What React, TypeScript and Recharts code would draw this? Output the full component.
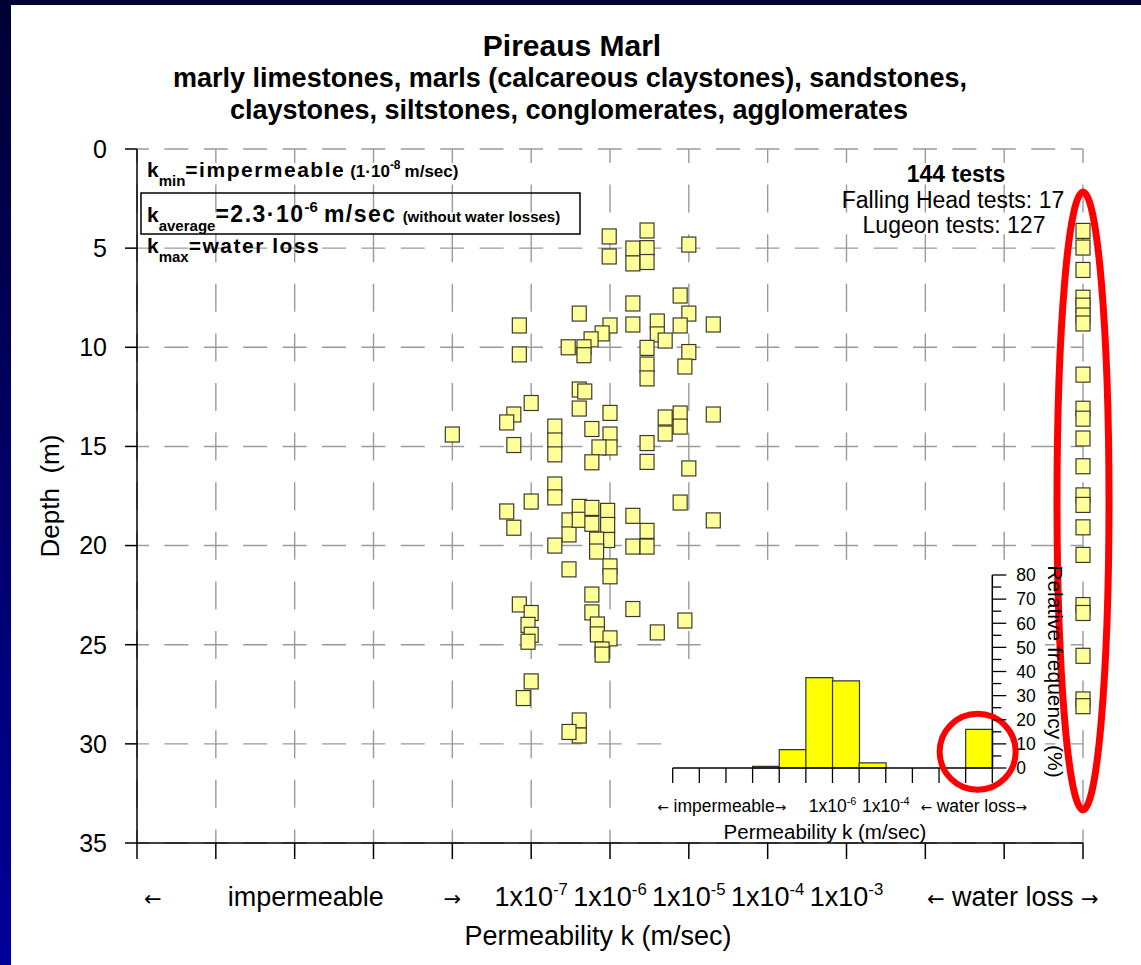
import React from 'react';
import { ScatterChart, Scatter, XAxis, YAxis, CartesianGrid, ReferenceDot, BarChart, Bar } from 'recharts';

const FONT = '"Liberation Sans", Arial, Helvetica, sans-serif';
const ARROW_FONT = '"DejaVu Sans", "Liberation Sans", sans-serif';

// ---- main scatter: permeability position (decade index, 0..12) vs depth (m)
const testPermIndex = [
  5.99, 5.99, 6.47, 6.29, 6.29, 6.47, 6.47, 7.0, 6.29, 6.89, 5.61, 4.85, 6.29, 7.31, 7.0, 6.89,
  4.85, 5.47, 6.0, 5.9, 5.76, 5.67, 5.67, 6.6, 6.6, 6.7, 6.47, 6.47, 6.47, 7.0, 6.95,
  5.61, 5.68, 5.61, 5.0, 4.78, 4.69, 4.0, 4.78, 5.3, 5.3, 5.3, 6.0, 5.77, 6.0, 6.0, 5.86, 5.77,
  6.47, 6.47, 6.7, 6.7, 6.89, 6.89, 7.31, 7.0, 5.3, 5.3, 5.0, 6.89, 7.31, 4.69, 4.78,
  5.48, 5.48, 5.61, 5.61, 5.77, 5.77, 5.97, 5.97, 5.97, 5.83, 5.83, 5.3, 5.48, 6.0, 6.0,
  6.29, 6.47, 6.29, 6.47, 4.85, 5.0, 4.96, 5.0, 4.96, 5.0, 4.9, 5.77, 5.77, 5.84, 5.84, 6.0,
  5.9, 5.9, 6.29, 6.6, 6.95, 5.61, 5.61, 5.48,
];
const testDepth = [
  4.41, 5.42, 4.11, 5.02, 5.77, 5.0, 5.7, 4.82, 7.79, 7.39, 8.3, 8.9, 8.85, 8.85, 8.3, 8.9,
  10.36, 10.0, 8.9, 9.3, 9.6, 10.0, 10.4, 8.7, 9.35, 9.66, 10.03, 10.87, 11.57, 10.24, 10.97,
  12.13, 12.23, 13.09, 12.81, 13.39, 13.79, 14.4, 14.93, 14.0, 14.7, 15.4, 13.31, 14.12, 14.4, 15.05, 15.05, 15.8,
  14.83, 15.78, 13.54, 14.35, 13.34, 14.0, 13.39, 16.11, 16.92, 17.57, 17.78, 17.83, 18.73, 18.28, 19.1,
  18.73, 19.44, 18.05, 18.7, 18.1, 18.9, 18.25, 18.96, 19.72, 19.7, 20.3, 20.0, 21.2, 21.05, 21.55,
  18.5, 19.26, 20.05, 20.05, 22.97, 23.4, 24.0, 24.5, 24.85, 26.85, 27.69, 22.47, 23.37, 23.98, 24.48, 24.68,
  25.24, 25.5, 23.2, 24.38, 23.78, 28.82, 29.58, 29.4,
];
const WATER_LOSS_INDEX = 12;
const waterLossDepth = [
  4.13, 4.97, 6.1, 7.5, 7.9, 8.4, 8.8, 11.38, 13.1, 13.6, 14.6, 16.0, 17.47, 17.95,
  19.08, 20.47, 23.0, 23.4, 25.56, 27.76, 28.1,
];

const depthTicks = [0, 5, 10, 15, 20, 25, 30, 35];
const gridTicks = [0, 1, 2, 3, 4, 5, 6, 7, 8, 9, 10, 11, 12];
const xLabelPos = [0.2, 2.14, 4, 5, 6, 7, 8, 9, 11.11];
const xLabelText = ['←', 'impermeable', '→', '1x10^-7', '1x10^-6', '1x10^-5', '1x10^-4', '1x10^-3', '← water loss →'];

// ---- inset histogram (bins 1 decade wide, on the same 0..12 scale)
const histBinCenter = [0.5, 1.5, 2.5, 3.5, 4.5, 5.5, 6.5, 7.5, 8.5, 9.5, 10.5, 11.5];
const histFreq = [0, 0, 0, 0.7, 7.6, 37.5, 36.1, 2.1, 0, 0, 0, 16.0];
const insetLabelPos = [1.84, 6, 8, 11.3];
const insetLabelText = ['← impermeable→', '1x10^-6', '1x10^-4', '← water loss→'];
const insetFreqTicks = [0, 5, 10, 15, 20, 25, 30, 35, 40, 45, 50, 55, 60, 65, 70, 75, 80];

const mainPoints = testPermIndex.map((x, i) => ({ x, y: testDepth[i] }));
const waterLossPoints = waterLossDepth.map((y) => ({ x: WATER_LOSS_INDEX, y }));
const histData = histBinCenter.map((mid, i) => ({ mid, freq: histFreq[i] }));

const withArrows = (s: string, fs: number, keyBase: string) =>
  s.split(/([←→])/).filter((t) => t !== '').map((t, i) =>
    t === '←' || t === '→' ? (
      <tspan key={`${keyBase}${i}`} fontFamily={ARROW_FONT} fontSize={fs * 0.78}>{t}</tspan>
    ) : (
      <tspan key={`${keyBase}${i}`}>{t}</tspan>
    )
  );

const supText = (s: string, fs: number) => {
  const parts = s.split('^');
  if (parts.length < 2) return withArrows(s, fs, 'a');
  return (
    <>
      {parts[0]}
      <tspan dy={-fs * 0.42} fontSize={fs * 0.62}>{parts[1]}</tspan>
    </>
  );
};

const EmptyTick = () => <g />;

const labelShape = (text: string, fs: number, dy: number) => (props: any) => (
  <text x={props.cx} y={props.cy + dy} textAnchor="middle" fontSize={fs} fill="#000">
    {supText(text, fs)}
  </text>
);

const InsetYTick = (props: any) => {
  const { x, y, payload } = props;
  const v = payload.value;
  const major = v % 10 === 0;
  return (
    <g>
      <line x1={x} x2={x + (major ? 14 : 9)} y1={y} y2={y} stroke="#000" strokeWidth={1.3} />
      {major && (
        <text x={x + 24} y={y} dy="0.36em" fontSize={17.5} fill="#000">
          {v}
        </text>
      )}
    </g>
  );
};

const Square = (props: any) => {
  const { cx, cy } = props;
  if (cx == null || cy == null) return <g />;
  return <rect x={cx - 7} y={cy - 7.5} width={14} height={15} fill="#FFFF99" stroke="#3b3b2b" strokeWidth={1.2} />;
};

const BigEllipse = (props: any) => (
  <ellipse cx={props.cx} cy={props.cy} rx={26} ry={309} fill="none" stroke="#FF0000" strokeWidth={7} />
);
const SmallCircle = (props: any) => (
  <ellipse cx={props.cx} cy={props.cy} rx={38} ry={38} fill="none" stroke="#FF0000" strokeWidth={6} />
);

export default function App() {
  return (
    <div
      style={{
        position: 'absolute', left: 0, top: 0, width: 1141, height: 965,
        background: '#fff', overflow: 'hidden', fontFamily: FONT,
      }}
    >
      <div style={{ position: 'absolute', left: 0, top: 0, width: 1141, height: 5, background: '#000035', zIndex: 0 }} />
      <div
        style={{
          position: 'absolute', left: 0, top: 0, width: 11, height: 965, zIndex: 0,
          background: 'linear-gradient(#000035, #00009a)',
        }}
      />

      <div style={{ position: 'absolute', left: 0, top: 0, zIndex: 1 }}>
        <ScatterChart width={1141} height={965} margin={{ top: 149, right: 58, bottom: 92, left: 77 }}>
          <CartesianGrid
            horizontal
            vertical={false}
            stroke="#9a9a9a"
            strokeWidth={1.4}
            strokeDasharray="24 15.4"
            strokeDashoffset={12}
          />
          <CartesianGrid
            horizontal={false}
            vertical
            stroke="#9a9a9a"
            strokeWidth={1.4}
            strokeDasharray="28 21.6"
            strokeDashoffset={14}
          />
          <XAxis
            type="number"
            dataKey="x"
            domain={[0, 12]}
            ticks={gridTicks}
            interval={0}
            height={30}
            tickSize={16}
            axisLine={{ stroke: '#000', strokeWidth: 1.5 }}
            tickLine={{ stroke: '#000', strokeWidth: 1.5 }}
            tick={EmptyTick}
            label={{ value: 'Permeability k (m/sec)', position: 'bottom', offset: 53, dx: -12, fontSize: 27, fill: '#000' }}
          />
          <YAxis
            type="number"
            dataKey="y"
            domain={[0, 35]}
            reversed
            ticks={depthTicks}
            interval={0}
            width={60}
            tickSize={12}
            tickMargin={18}
            axisLine={{ stroke: '#000', strokeWidth: 1.5 }}
            tickLine={{ stroke: '#000', strokeWidth: 1.5 }}
            tick={{ fontSize: 25, fill: '#000' }}
            label={{
              value: 'Depth\u00a0 (m)', angle: -90, position: 'left', offset: 27,
              textAnchor: 'middle', fontSize: 26, fill: '#000',
            }}
          />
          <Scatter data={mainPoints} shape={Square} isAnimationActive={false} />
          <Scatter data={waterLossPoints} shape={Square} isAnimationActive={false} />
          {xLabelPos.map((p, i) => (
            <ReferenceDot key={`xl${i}`} x={p} y={35} r={1} ifOverflow="visible" shape={labelShape(xLabelText[i], 27, 63)} />
          ))}
          <ReferenceDot x={WATER_LOSS_INDEX} y={17.75} r={1} shape={BigEllipse} ifOverflow="visible" />
        </ScatterChart>
      </div>

      {/* inset background */}
      <div style={{ position: 'absolute', left: 708, top: 560, width: 337, height: 282, background: '#fff', zIndex: 2 }} />
      <div style={{ position: 'absolute', left: 663, top: 662, width: 46, height: 180, background: '#fff', zIndex: 2 }} />

      <div style={{ position: 'absolute', left: 640, top: 550, zIndex: 3 }}>
        <BarChart
          width={460}
          height={300}
          data={histData}
          margin={{ top: 25, right: 47.7, bottom: 52, left: 32.7 }}
          barCategoryGap={0}
          barGap={0}
        >
          <XAxis
            type="number"
            dataKey="mid"
            domain={[0, 12]}
            ticks={gridTicks}
            interval={0}
            height={30}
            tickSize={15}
            axisLine={{ stroke: '#000', strokeWidth: 1.5 }}
            tickLine={{ stroke: '#000', strokeWidth: 1.3 }}
            tick={EmptyTick}
            label={{ value: 'Permeability k (m/sec)', position: 'bottom', offset: 26, dx: -7.5, fontSize: 20.5, fill: '#000' }}
          />
          <YAxis
            orientation="right"
            type="number"
            domain={[0, 80]}
            ticks={insetFreqTicks}
            interval={0}
            width={60}
            tickSize={0}
            tickMargin={0}
            axisLine={{ stroke: '#000', strokeWidth: 1.5 }}
            tickLine={false}
            tick={InsetYTick}
            label={{
              value: 'Relative frequency (%)', angle: 90, position: 'right', offset: 3,
              textAnchor: 'middle', fontSize: 21, fill: '#000',
            }}
          />
          <Bar dataKey="freq" fill="#FFFF00" stroke="#333" strokeWidth={1.2} isAnimationActive={false} />
          {insetLabelPos.map((p, i) => (
            <ReferenceDot key={`il${i}`} x={p} y={0} r={1} ifOverflow="visible" shape={labelShape(insetLabelText[i], 17.5, 44)} />
          ))}
          <ReferenceDot x={11.45} y={6.75} r={1} shape={SmallCircle} ifOverflow="visible" />
        </BarChart>
      </div>

      {/* titles and annotations */}
      <svg width={1141} height={965} style={{ position: 'absolute', left: 0, top: 0, pointerEvents: 'none', zIndex: 4 }} fontFamily={FONT}>
        <text x={572} y={56} textAnchor="middle" fontSize={30} fontWeight="bold" fill="#000">Pireaus Marl</text>
        <text x={570} y={87} textAnchor="middle" fontSize={27} fontWeight="bold" fill="#000">
          marly limestones, marls (calcareous claystones), sandstones,
        </text>
        <text x={569} y={119} textAnchor="middle" fontSize={27} fontWeight="bold" fill="#000">
          claystones, siltstones, conglomerates, agglomerates
        </text>

        <text x={147} y={177} fontWeight="bold" fill="#000">
          <tspan fontSize={21}>k</tspan>
          <tspan fontSize={15} dy={9}>min</tspan>
          <tspan fontSize={21} dy={-9} letterSpacing={1.5}>=impermeable</tspan>
          <tspan fontSize={17} dx={5}>(1·10</tspan>
          <tspan fontSize={12} dy={-8}>-8</tspan>
          <tspan fontSize={17} dy={8} dx={4}>m/sec)</tspan>
        </text>

        <rect x={141} y={193} width={439} height={41} fill="none" stroke="#000" strokeWidth={1.5} />
        <text x={147} y={222} fontWeight="bold" fill="#000">
          <tspan fontSize={21}>k</tspan>
          <tspan fontSize={15} dy={9}>average</tspan>
          <tspan fontSize={23} dy={-9} letterSpacing={1.5}>=2.3·10</tspan>
          <tspan fontSize={15} dy={-10}>-6</tspan>
          <tspan fontSize={23} dy={10} dx={6} letterSpacing={1.5}>m/sec</tspan>
          <tspan fontSize={15} dx={6}>(without water losses)</tspan>
        </text>

        <text x={147} y={253} fontWeight="bold" fill="#000">
          <tspan fontSize={21}>k</tspan>
          <tspan fontSize={15} dy={9}>max</tspan>
          <tspan fontSize={21} dy={-9} letterSpacing={1.5}>=water loss</tspan>
        </text>

        <text x={956} y={182} textAnchor="middle" fontSize={23} fontWeight="bold" fill="#000">144 tests</text>
        <text x={953} y={208} textAnchor="middle" fontSize={23} fill="#000">Falling Head tests: 17</text>
        <text x={954} y={233} textAnchor="middle" fontSize={23} fill="#000">Lugeon tests: 127</text>
      </svg>
    </div>
  );
}
